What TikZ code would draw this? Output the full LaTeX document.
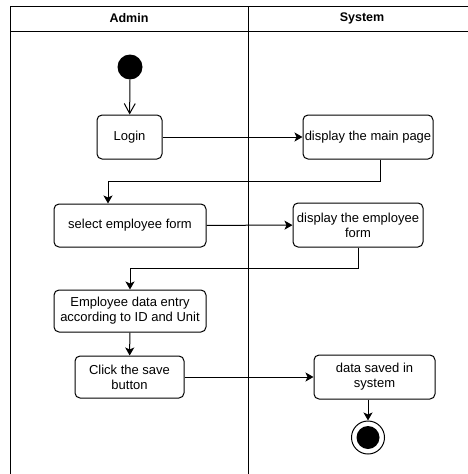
\documentclass[tikz,border=0pt]{standalone}
\usepackage{fontspec}
\setmainfont{Liberation Sans}
\usetikzlibrary{arrows.meta}
\tikzset{
  act/.style={draw, rounded corners=5pt, line width=1pt, inner sep=1pt,
    align=center, font=\fontsize{13}{15}\selectfont},
  lane/.style={line width=1pt},
  flow/.style={-{Stealth[length=8pt,width=9pt,inset=2pt]}, line width=1pt}
}
\begin{document}
\begin{tikzpicture}[x=1pt,y=-1pt]
      \useasboundingbox (0,0) rectangle (468,474);
      % swimlanes
      \draw[lane] (10,474) -- (10,6) -- (468,6);
      \draw[lane] (10,31) -- (468,31);
      \draw[lane] (248,6) -- (248,474);
      \node[font=\bfseries\fontsize{12.5}{14}\selectfont] (admin) at (129,18.5) {Admin};
      \node[font=\bfseries\fontsize{12.5}{14}\selectfont] (system) at (362,18.5) {System};
      % activities
      \node[circle, fill=black, minimum size=25pt, inner sep=0pt] (start) at (130,67) {};
      \node[act, minimum width=65pt, minimum height=44pt] (login) at (129.5,137) {Login};
      \node[act, minimum width=130pt, minimum height=44pt] (main) at (368,137) {display the main page};
      \node[act, minimum width=152pt, minimum height=43pt] (select) at (130,225.5) {select employee form};
      \node[act, minimum width=130pt, minimum height=44pt] (empform) at (358,225) {display the employee\\form};
      \node[act, minimum width=152pt, minimum height=42pt] (entry) at (130,311) {Employee data entry\\according to ID and Unit};
      \node[act, minimum width=109pt, minimum height=42pt] (save) at (129.5,377) {Click the save\\button};
      \node[act, minimum width=121pt, minimum height=44pt] (saved) at (374.5,377) {data saved in\\system};
      \node[circle, draw, line width=1pt, minimum size=33pt, inner sep=0pt,
        path picture={\fill (path picture bounding box.center) circle (11.5pt);}] (end) at (368,437.5) {};
      \begin{scope}[flow]
        \draw[-{Straight Barb[length=10pt,width=11pt]}] (start) to (login);
        \draw (login) to (main);
        \draw ([xshift=12pt]main.south) -- ++(0,22) -| ([xshift=-22pt]select.north);
        \draw (select) to (empform);
        \draw (empform.south) -- ++(0,21) -| (entry.north);
        \draw (entry) to (save);
        \draw (save) to (saved);
        \draw (saved.south -| end.north) to (end.north);
      \end{scope}
    \end{tikzpicture}
\end{document}
